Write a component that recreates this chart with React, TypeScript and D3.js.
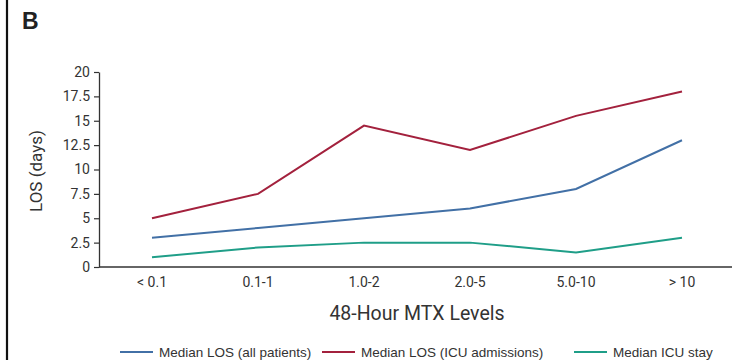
import React, { useEffect, useRef } from 'react';
import * as d3 from 'd3';

const levels = ['< 0.1', '0.1-1', '1.0-2', '2.0-5', '5.0-10', '> 10'];
const losAll = [3, 4, 5, 6, 8, 13];
const losIcu = [5, 7.5, 14.5, 12, 15.5, 18];
const icuStay = [1, 2, 2.5, 2.5, 1.5, 3];
const yTicks = [0, 2.5, 5, 7.5, 10, 12.5, 15, 17.5, 20];
const seriesNames = ['Median LOS (all patients)', 'Median LOS (ICU admissions)', 'Median ICU stay'];

const colors = ['#4270a6', '#a3213d', '#1f9e88'];
const narrow = 'Roboto, "Liberation Sans", sans-serif';
const sans = '"Liberation Sans", Arial, sans-serif';

export default function App() {
  const ref = useRef<SVGSVGElement | null>(null);

  useEffect(() => {
    const svg = d3.select(ref.current);
    svg.selectAll('*').remove();

    const x = d3.scalePoint<string>().domain(levels).range([99, 735]).padding(0.5);
    const y = d3.scaleLinear().domain([0, 20]).range([267, 72]);

    // frame line on the left + panel letter
    svg.append('line')
      .attr('x1', 7).attr('x2', 7).attr('y1', 0).attr('y2', 360)
      .attr('stroke', '#111').attr('stroke-width', 2.2);
    svg.append('text')
      .attr('x', 22).attr('y', 29)
      .attr('font-family', sans).attr('font-weight', 'bold').attr('font-size', 23)
      .attr('fill', '#222')
      .text('B');

    // y axis
    const yAxis = svg.append('g')
      .attr('transform', 'translate(99,0)')
      .call(d3.axisLeft(y).tickValues(yTicks).tickSize(5).tickSizeOuter(0).tickPadding(4)
        .tickFormat((d) => String(d)));
    yAxis.select('.domain').attr('stroke', '#333').attr('stroke-width', 1.3);
    yAxis.selectAll('.tick line').attr('stroke', '#333').attr('stroke-width', 1.2);
    yAxis.selectAll('.tick text')
      .attr('font-family', narrow).attr('font-size', 14).attr('fill', '#333');

    // x axis (no tick marks)
    svg.append('line')
      .attr('x1', 99).attr('x2', 735).attr('y1', 267).attr('y2', 267)
      .attr('stroke', '#333').attr('stroke-width', 1.3);
    svg.append('g').selectAll('text')
      .data(levels)
      .enter()
      .append('text')
      .attr('x', (d) => x(d) as number)
      .attr('y', 287)
      .attr('text-anchor', 'middle')
      .attr('font-family', narrow).attr('font-size', 14).attr('fill', '#333')
      .text((d) => d);

    // axis titles
    svg.append('text')
      .attr('transform', 'translate(42,171) rotate(-90)')
      .attr('text-anchor', 'middle')
      .attr('font-family', narrow).attr('font-size', 17).attr('fill', '#333')
      .text('LOS (days)');
    svg.append('text')
      .attr('x', 417).attr('y', 320)
      .attr('text-anchor', 'middle')
      .attr('font-family', narrow).attr('font-size', 19.5).attr('fill', '#333')
      .text('48-Hour MTX Levels');

    // lines
    const line = d3.line<number>()
      .x((d, i) => x(levels[i]) as number)
      .y((d) => y(d));
    [losAll, losIcu, icuStay].forEach((vals, i) => {
      svg.append('path')
        .datum(vals)
        .attr('fill', 'none')
        .attr('stroke', colors[i])
        .attr('stroke-width', 2)
        .attr('d', line);
    });

    // legend
    const legendX = [120, 322, 574];
    seriesNames.forEach((name, i) => {
      const g = svg.append('g').attr('transform', `translate(${legendX[i]},352)`);
      g.append('line')
        .attr('x1', 0).attr('x2', 33).attr('y1', 0).attr('y2', 0)
        .attr('stroke', colors[i]).attr('stroke-width', 2);
      g.append('text')
        .attr('x', 39).attr('y', 4.5)
        .attr('font-family', sans).attr('font-size', 13.5).attr('fill', '#333')
        .text(name);
    });
  }, []);

  return (
    <svg
      ref={ref}
      width={732}
      height={360}
      style={{ position: 'absolute', left: 0, top: 0, background: '#fff' }}
    />
  );
}
